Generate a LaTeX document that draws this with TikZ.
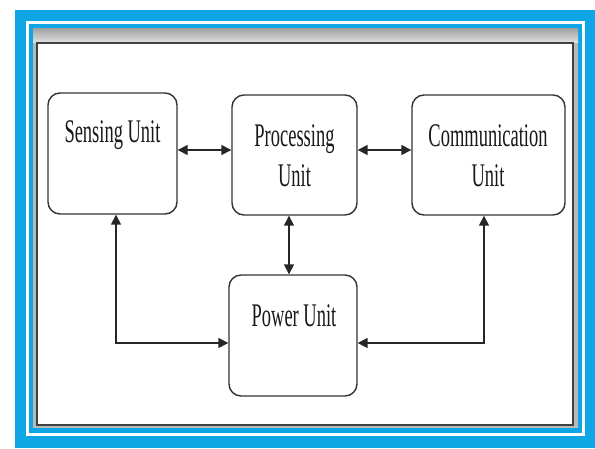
\documentclass[tikz,border=0pt]{standalone}
\usepackage{fontspec}
\setmainfont{Liberation Serif}[FakeStretch=0.56]
\usetikzlibrary{arrows.meta}
\definecolor{frameblue}{RGB}{14,166,228}
\begin{document}
\begin{tikzpicture}[x=1pt,y=-1pt,
  unit/.style={draw=black!80, line width=1.4pt, rounded corners=12pt, inner sep=0pt, fill=white},
  lbl/.style={font=\fontsize{33}{40}\selectfont, align=center, text=black!90, inner sep=0pt, anchor=base},
  link/.style={line width=1.5pt, draw=black!85,
    {Triangle[length=10pt,width=10pt]}-{Triangle[length=10pt,width=10pt]}}
]
\useasboundingbox (0,0) rectangle (595,448);
% framed background
\fill[white] (0,0) rectangle (595,448);
\fill[frameblue] (15,10) rectangle (595,448);
\draw[white, line width=3pt] (27.5,22.5) rectangle (583.5,434.5);
\fill[gray!55] (33,28) rectangle (578,428);
\shade[top color=gray!75, bottom color=gray!25] (33,28) rectangle (578,42);
\draw[black!75, line width=1.5pt, fill=white] (37,43) rectangle (573,425);

% unit boxes
\node[unit, minimum width=129pt, minimum height=121pt] (sensing) at (112.5,153.5) {};
\node[unit, minimum width=125pt, minimum height=120pt] (processing) at (294.5,155) {};
\node[unit, minimum width=153pt, minimum height=120pt] (comm) at (488.5,155) {};
\node[unit, minimum width=128pt, minimum height=121pt] (power) at (293,335.5) {};

% box labels (base anchor sits on the last line)
\node[lbl] (sensing-t) at (112.5,142) {Sensing Unit};
\node[lbl] (processing-t) at (294.5,186) {Processing\\Unit};
\node[lbl] (comm-t) at (488,186) {Communication\\Unit};
\node[lbl] (power-t) at (294,326) {Power Unit};

% connector guide lines
\coordinate (row) at (0,150);
\coordinate (mid) at (289,0);
\coordinate (low) at (0,343);
\coordinate (sline) at (116,0);
\coordinate (cline) at (484,0);

% connectors
\draw[link] (sensing.east |- row) -- (processing.west |- row);
\draw[link] (processing.east |- row) -- (comm.west |- row);
\draw[link] (processing.south -| mid) -- (power.north -| mid);
\draw[link] (sensing.south -| sline) |- (power.west |- low);
\draw[link] (comm.south -| cline) |- (power.east |- low);
\end{tikzpicture}
\end{document}
